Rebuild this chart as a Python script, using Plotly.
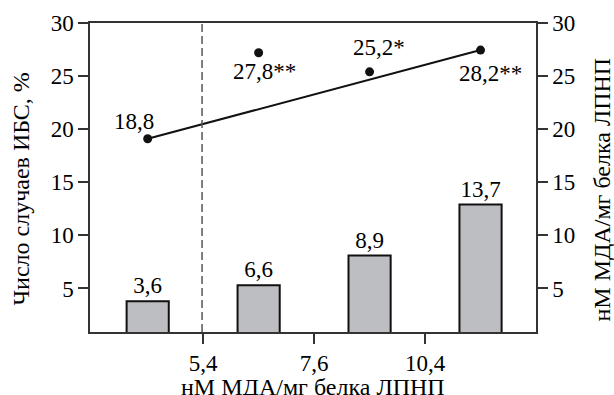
import plotly.graph_objects as go

# Data
categories = [0, 1, 2, 3]
bar_values = [3.8, 5.3, 8.1, 12.9]          # bar heights as drawn
bar_labels = ["3,6", "6,6", "8,9", "13,7"]
point_values = [19.1, 27.2, 25.4, 27.45]    # dots as drawn
point_labels = ["18,8", "27,8**", "25,2*", "28,2**"]
xtick_vals = [0.5, 1.5, 2.5]
xtick_text = ["5,4", "7,6", "10,4"]
ytick_vals = [5, 10, 15, 20, 25, 30]
x_title = "нМ МДА/мг белка ЛПНП"
y_title = "Число случаев ИБС, %"
y2_title = "нМ МДА/мг белка ЛПНП"

FONT = "Liberation Serif"
FS = 23

fig = go.Figure()

fig.add_trace(go.Bar(
    x=categories, y=bar_values, width=0.38,
    marker=dict(color="#bdbec1", line=dict(color="#111111", width=2)),
    text=bar_labels, textposition="outside", cliponaxis=False,
    textfont=dict(family=FONT, size=FS, color="black"),
    yaxis="y2", showlegend=False,
))

# trend line from first to last point
fig.add_trace(go.Scatter(
    x=[categories[0], categories[-1]], y=[point_values[0], point_values[-1]],
    mode="lines", line=dict(color="#111111", width=2), showlegend=False,
))
fig.add_trace(go.Scatter(
    x=categories, y=point_values, mode="markers",
    marker=dict(color="#111111", size=9), showlegend=False, cliponaxis=False,
))

shifts = [(-14, 17), (6, -19), (9, 24), (10, -23)]
for c, v, t, (dx, dy) in zip(categories, point_values, point_labels, shifts):
    fig.add_annotation(x=c, y=v, text=t, showarrow=False, xshift=dx, yshift=dy,
                       font=dict(family=FONT, size=FS, color="black"))

# axis titles as paper annotations
fig.add_annotation(x=0.5, y=0, xref="paper", yref="paper", text=x_title, showarrow=False,
                   yanchor="middle", yshift=-55, font=dict(family=FONT, size=24, color="black"))
fig.add_annotation(x=0, y=0.5, xref="paper", yref="paper", text=y_title, showarrow=False,
                   textangle=-90, xanchor="center", yanchor="middle", xshift=-70, yshift=-12,
                   font=dict(family=FONT, size=24, color="black"))
fig.add_annotation(x=1, y=0.5, xref="paper", yref="paper", text=y2_title, showarrow=False,
                   textangle=-90, xanchor="center", yanchor="middle", xshift=65, yshift=-12,
                   font=dict(family=FONT, size=24, color="black"))

fig.add_shape(type="line", x0=0.49, x1=0.49, y0=0, y1=1, xref="x", yref="paper",
              line=dict(color="#555555", width=1.5, dash="8px,4px"))

axis_common = dict(
    showline=True, linecolor="#333333", linewidth=1.5,
    ticks="outside", ticklen=10, tickcolor="#333333", tickwidth=1.5,
    showgrid=False, zeroline=False, automargin=False,
    tickfont=dict(family=FONT, size=FS, color="black"),
)

fig.update_layout(
    width=614, height=395,
    margin=dict(l=90, r=78, t=23, b=63),
    plot_bgcolor="white", paper_bgcolor="white",
    font=dict(family=FONT, size=FS, color="black"),
    xaxis=dict(range=[-0.52, 3.5], tickvals=xtick_vals, ticktext=xtick_text,
               mirror=True, **axis_common),
    yaxis=dict(range=[0.9, 30], tickvals=ytick_vals, **axis_common),
    yaxis2=dict(range=[0.9, 30], tickvals=ytick_vals, overlaying="y", side="right",
                **axis_common),
)

fig.write_html("out.html")
